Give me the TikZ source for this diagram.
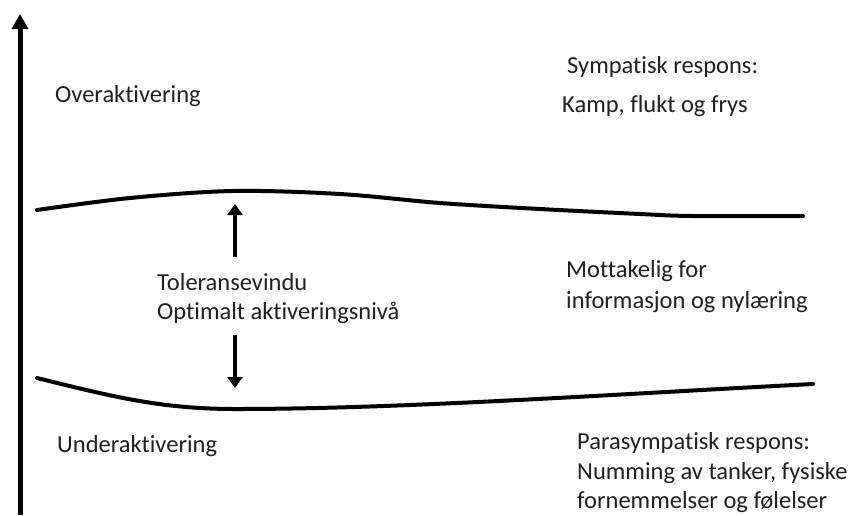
\documentclass[tikz,border=0pt]{standalone}
\usepackage{fontspec}
\setmainfont{Carlito}[Ligatures=NoCommon]
\usetikzlibrary{arrows.meta}
\tikzset{
  lbl/.style={anchor=base west, inner sep=0pt, font=\fontsize{24.5}{29}\selectfont, text=black!88},
  curve/.style={line width=4pt, line cap=round},
  axisline/.style={line width=5pt, -{Triangle[width=16pt,length=15pt]}},
  gaparrow/.style={line width=4pt, -{Triangle[width=15pt,length=11pt]}}
}
\begin{document}
\begin{tikzpicture}[x=1pt,y=-1pt]
\useasboundingbox (0,0) rectangle (858,515);
% axis
\coordinate (axb) at (20,515);
\coordinate (axt) at (20,14);
\draw[axisline] (axb) -- (axt);
% window boundaries
\draw[curve] plot[smooth, tension=0.55] coordinates {(37,210) (130,198) (233,191) (340,194) (440,203) (540,209) (640,214) (693,216) (803,216)};
\draw[curve] (37,378) .. controls (110,396) and (160,409) .. (235,409)
  .. controls (400,409) and (600,395) .. (813,384);
% arrows
\coordinate (ua) at (235,257);
\coordinate (ub) at (235,204);
\coordinate (da) at (235,335);
\coordinate (db) at (235,388);
\draw[gaparrow] (ua) -- (ub);
\draw[gaparrow] (da) -- (db);
% labels
\node[lbl] (ov) at (55,102) {Overaktivering};
\node[lbl] (sym1) at (567,73) {Sympatisk respons:};
\node[lbl] (sym2) at (562,112) {Kamp, flukt og frys};
\node[lbl] (tol1) at (157,290) {Toleransevindu};
\node[lbl] (tol2) at (157,319) {Optimalt aktiveringsnivå};
\node[lbl] (mot1) at (566,277) {Mottakelig for};
\node[lbl] (mot2) at (566,308) {informasjon og nylæring};
\node[lbl] (und) at (57,452) {Underaktivering};
\node[lbl] (par1) at (577,449) {Parasympatisk respons:};
\node[lbl] (par2) at (577,479) {Numming av tanker, fysiske};
\node[lbl] (par3) at (577,508) {fornemmelser og følelser};
\end{tikzpicture}
\end{document}
